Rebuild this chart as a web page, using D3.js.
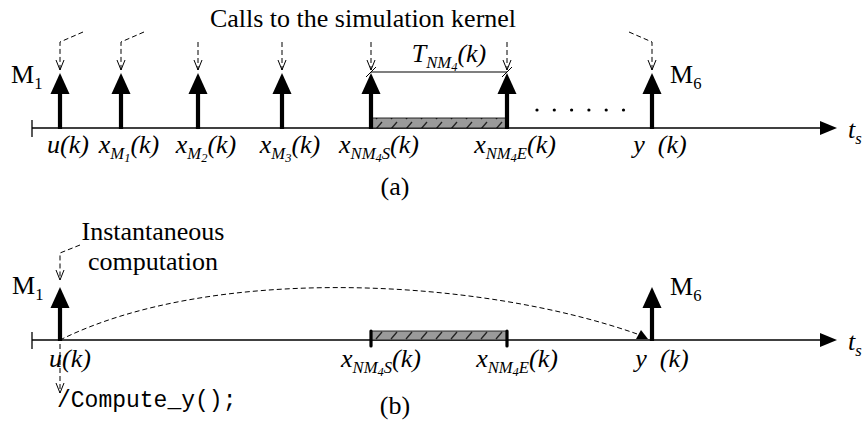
<!DOCTYPE html>
<html>
<head>
<meta charset="utf-8">
<script src="https://cdn.jsdelivr.net/npm/d3@7"></script>
</head>
<body style="margin:0">
<svg id="chart" width="864" height="430"></svg>
<script>

// DATA
// panel (a) : events on the time axis (time units), with their labels
var eventsA = ["u(k)", "x_{M_{1}}(k)", "x_{M_{2}}(k)", "x_{M_{3}}(k)", "x_{NM_{4}S}(k)", "x_{NM_{4}E}(k)", "y\u2002(k)"];
var timesA = [28, 89, 166, 250, 339, 475, 620];
// direction of the "call" leader bend (1 = up right, -1 = up left, 0 = straight)
var callBendA = [1, 1, 0, 0, 0, 0, -1];
// non measured block NM4 : start / end
var nmSpan = [339, 475];
var nmLabel = "T_{NM_{4}}(k)";
// panel (b)
var eventsB = ["u(k)", "x_{NM_{4}S}(k)", "x_{NM_{4}E}(k)", "y\u2002(k)"];
var timesB = [28, 339, 475, 620];
var arrowsB = [28, 620];
var modelLabels = ["M_{1}", "M_{6}"];
var axisEnd = 805;

// SIZES
var fontSize = 26;
var serifFam = "'Liberation Serif', 'Times New Roman', serif";

// axis y position of each panel
var yA = 128;
var yB = 340;

var svg = d3.select("#chart");

var xs = d3.scaleLinear().domain([0, axisEnd]).range([32, 837]);

// hatch pattern for the NM block
var defs = svg.append("defs");
var pat = defs.append("pattern")
    .attr("id", "hatch")
    .attr("patternUnits", "userSpaceOnUse")
    .attr("width", 15)
    .attr("height", 10)
    .attr("x", xs(nmSpan[0]) + 2)
    .attr("y", 0);
pat.append("rect").attr("width", 15).attr("height", 10).attr("fill", "#9a9a9a");
pat.append("line")
    .attr("x1", 3).attr("y1", 9).attr("x2", 9).attr("y2", 2)
    .attr("stroke", "#222").attr("stroke-width", 1.3);

// label with nested subscripts : x_{M_{1}}(k)
function texLabel(sel, str, size, italic) {
    var parts = [], level = 0, buf = "";
    for (var i = 0; i < str.length; i++) {
        var c = str[i];
        if (c == "_" && str[i + 1] == "{") {
            if (buf) parts.push({t: buf, l: level});
            buf = ""; level++; i++;
        } else if (c == "}") {
            if (buf) parts.push({t: buf, l: level});
            buf = ""; level--;
        } else buf += c;
    }
    if (buf) parts.push({t: buf, l: level});
    var offs = [0, size * 0.24, size * 0.34];
    var sizes = [size, size * 0.64, size * 0.48];
    var prev = 0;
    parts.forEach(function (p) {
        sel.append("tspan")
            .attr("dy", offs[p.l] - offs[prev])
            .style("font-family", serifFam, "important")
            .style("font-size", sizes[p.l] + "px", "important")
            .style("font-style", italic ? "italic" : "normal", "important")
            .text(p.t);
        prev = p.l;
    });
    return sel;
}

function addText(str, px, py, anchor, italic, size) {
    var t = svg.append("text")
        .attr("x", px).attr("y", py)
        .attr("text-anchor", anchor)
        .style("font-family", serifFam, "important")
        .style("font-size", (size || fontSize) + "px", "important");
    return texLabel(t, str, size || fontSize, italic);
}

function timeAxis(y0) {
    svg.append("line")
        .attr("x1", xs(0)).attr("x2", xs(axisEnd) - 16)
        .attr("y1", y0).attr("y2", y0)
        .attr("stroke", "black").attr("stroke-width", 1.3);
    svg.append("line")
        .attr("x1", xs(0)).attr("x2", xs(0))
        .attr("y1", y0 - 8).attr("y2", y0 + 9)
        .attr("stroke", "black").attr("stroke-width", 1.3);
    svg.append("path")
        .attr("d", "M" + (xs(axisEnd) - 17) + "," + (y0 - 7) + "L" + xs(axisEnd) + "," + y0 + "L" + (xs(axisEnd) - 17) + "," + (y0 + 7) + "Z")
        .attr("fill", "black");
    addText("t_{s}", xs(axisEnd) + 11, y0 + 10, "start", true);
}

// thick event arrow
function bigArrow(px, y0, tip) {
    svg.append("line")
        .attr("x1", px).attr("x2", px)
        .attr("y1", y0 + 1).attr("y2", tip + 19)
        .attr("stroke", "black").attr("stroke-width", 4.2);
    svg.append("path")
        .attr("d", "M" + (px - 9.5) + "," + (tip + 21) + "L" + px + "," + tip + "L" + (px + 9.5) + "," + (tip + 21) + "Z")
        .attr("fill", "black");
}

// dashed leader with open head
function dashedCall(px, yTop, yTip, bend) {
    var d = "M" + px + "," + yTop + "L" + px + "," + yTip;
    if (bend) d = "M" + (px + bend * 23) + "," + (yTop - 10) + "L" + px + "," + yTop + "L" + px + "," + yTip;
    svg.append("path")
        .attr("d", d)
        .attr("fill", "none")
        .attr("stroke", "black").attr("stroke-width", 1)
        .attr("stroke-dasharray", "5,3");
    svg.append("path")
        .attr("d", "M" + (px - 4) + "," + (yTip - 10) + "L" + px + "," + yTip + "L" + (px + 4) + "," + (yTip - 10))
        .attr("fill", "none")
        .attr("stroke", "black").attr("stroke-width", 1);
}

function nmBlock(y0, h) {
    svg.append("rect")
        .attr("x", xs(nmSpan[0])).attr("y", y0 - h)
        .attr("width", xs(nmSpan[1]) - xs(nmSpan[0])).attr("height", h)
        .attr("fill", "url(#hatch)")
        .attr("stroke", "black").attr("stroke-width", 0.8);
}

// ---------------- PANEL (a)
addText("Calls to the simulation kernel", 363, 27, "middle", false);
timeAxis(yA);
nmBlock(yA, 10);

timesA.forEach(function (t, i) {
    bigArrow(xs(t), yA, 73);
    dashedCall(xs(t), 42, 70, callBendA[i]);
    addText(eventsA[i], xs(t) + 8, yA + 25, "middle", true);
});

// dots
svg.selectAll("circle.dot")
    .data(d3.range(6))
    .enter()
    .append("circle")
    .attr("cx", function (d) { return 537 + d * 17.3; })
    .attr("cy", 110)
    .attr("r", 1.6)
    .attr("fill", "black");

// T_NM4 span
svg.append("line")
    .attr("x1", xs(nmSpan[0])).attr("x2", xs(nmSpan[1]))
    .attr("y1", 72).attr("y2", 72)
    .attr("stroke", "black").attr("stroke-width", 1.1);
nmSpan.forEach(function (t) {
    svg.append("line")
        .attr("x1", xs(t) - 5).attr("x2", xs(t) + 5)
        .attr("y1", 77).attr("y2", 67)
        .attr("stroke", "black").attr("stroke-width", 1);
});
addText(nmLabel, (xs(nmSpan[0]) + xs(nmSpan[1])) / 2 + 10, 62, "middle", true);

addText(modelLabels[0], 11, 83, "start", false);
addText(modelLabels[1], xs(timesA[6]) + 18, 83, "start", false);
addText("(a)", 395, 195, "middle", false);

// ---------------- PANEL (b)
timeAxis(yB);
nmBlock(yB, 9);
nmSpan.forEach(function (t) {
    svg.append("line")
        .attr("x1", xs(t)).attr("x2", xs(t))
        .attr("y1", yB - 9).attr("y2", yB + 6)
        .attr("stroke", "black").attr("stroke-width", 3.2)
        .attr("stroke-linecap", "round");
});

// propagation curve u(k) -> y(k), with a small filled head
var x0 = xs(arrowsB[0]), x1 = xs(arrowsB[1]) - 4;
svg.append("path")
    .attr("d", "M" + x0 + "," + yB + "C" + (x0 + 150) + "," + (yB - 75) + " " + (x1 - 170) + "," + (yB - 63) + " " + (x1 - 8) + "," + (yB - 5))
    .attr("fill", "none")
    .attr("stroke", "black").attr("stroke-width", 1)
    .attr("stroke-dasharray", "5,3");
svg.append("path")
    .attr("d", "M" + x1 + "," + (yB - 1) + "L" + (x1 - 12) + "," + (yB - 1) + "L" + (x1 - 7) + "," + (yB - 10) + "Z")
    .attr("fill", "black");

arrowsB.forEach(function (t) { bigArrow(xs(t), yB, 287); });

timesB.forEach(function (t, i) {
    addText(eventsB[i], xs(t) + 10, yB + 27, "middle", true);
});

addText(modelLabels[0], 12, 294, "start", false);
addText(modelLabels[1], xs(arrowsB[1]) + 18, 295, "start", false);

// instantaneous computation
addText("Instantaneous", 153, 240, "middle", false);
addText("computation", 153, 270, "middle", false);
var ux = xs(arrowsB[0]);
svg.append("path")
    .attr("d", "M" + (ux + 20) + "," + 245 + "L" + ux + "," + 253 + "L" + ux + "," + 280)
    .attr("fill", "none")
    .attr("stroke", "black").attr("stroke-width", 1)
    .attr("stroke-dasharray", "5,3");
svg.append("path")
    .attr("d", "M" + (ux - 4) + "," + 270 + "L" + ux + "," + 280 + "L" + (ux + 4) + "," + 270)
    .attr("fill", "none").attr("stroke", "black").attr("stroke-width", 1);

dashedCall(ux, yB + 4, 393, 0);
svg.append("text")
    .attr("x", 57).attr("y", 407)
    .style("font-family", "'Liberation Mono', 'Courier New', monospace", "important")
    .style("font-size", "23px", "important")
    .text("/Compute_y();");

addText("(b)", 395, 414, "middle", false);

</script>
</body>
</html>
